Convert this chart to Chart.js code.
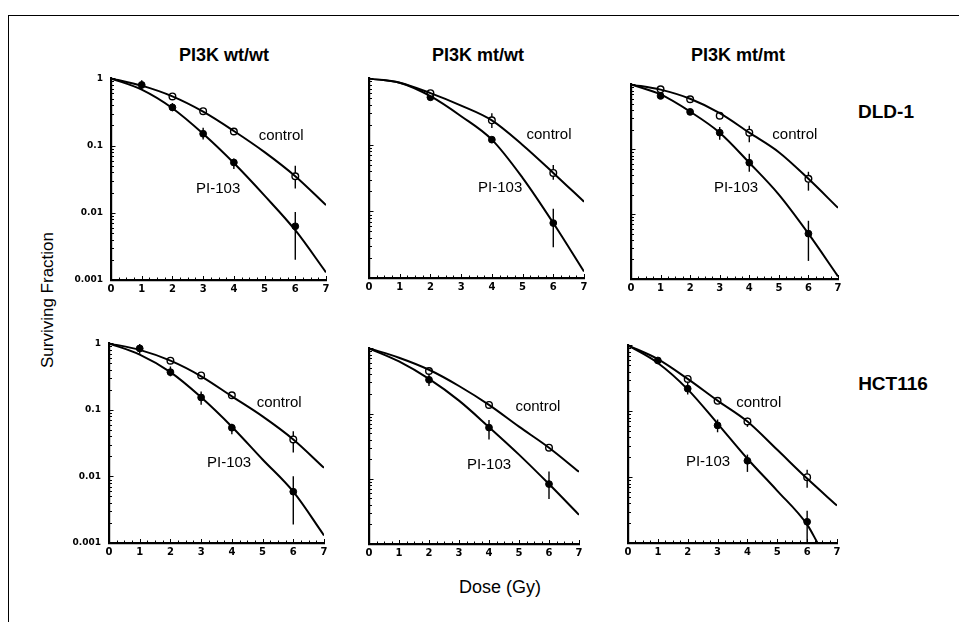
<!DOCTYPE html>
<html>
<head>
<meta charset="utf-8">
<script src="https://cdn.jsdelivr.net/npm/chart.js@4.4.1/dist/chart.umd.min.js"></script>
<style>
body { margin: 0; background: #fff; }
#page { position: relative; width: 959px; height: 622px; overflow: hidden; font-family: "Liberation Sans", Arial, sans-serif; color: #000; }
#frame { position: absolute; left: 8px; top: 15px; width: 980px; height: 640px; border-left: 1.5px solid #000; border-top: 1.5px solid #000; }
.lbl { position: absolute; white-space: nowrap; transform: translate(-50%, -50%); }
canvas { position: absolute; }
</style>
</head>
<body>
<div id="page">
  <div id="frame"></div>
  <div class="lbl" style="left:224px;top:55px;font-weight:bold;font-size:18px">PI3K wt/wt</div>
  <div class="lbl" style="left:478px;top:55px;font-weight:bold;font-size:18px">PI3K mt/wt</div>
  <div class="lbl" style="left:738px;top:55px;font-weight:bold;font-size:18px">PI3K mt/mt</div>
  <div class="lbl" style="left:886px;top:112px;font-weight:bold;font-size:19px">DLD-1</div>
  <div class="lbl" style="left:893px;top:384px;font-weight:bold;font-size:19px">HCT116</div>
  <div class="lbl" style="left:48px;top:300px;font-size:17px;transform:translate(-50%,-50%) rotate(-90deg)">Surviving Fraction</div>
  <div class="lbl" style="left:500px;top:587px;font-size:18px">Dose (Gy)</div>
</div>
<script>
var curveDose = [0, 1, 2, 3, 4, 5, 6, 7];
var xTicks = [0, 1, 2, 3, 4, 5, 6, 7];
var yTicks = [0.001, 0.01, 0.1, 1];
var yMinorTicks = [0.002, 0.003, 0.004, 0.005, 0.006, 0.007, 0.008, 0.009,
                   0.02, 0.03, 0.04, 0.05, 0.06, 0.07, 0.08, 0.09,
                   0.2, 0.3, 0.4, 0.5, 0.6, 0.7, 0.8, 0.9];

// DLD-1, PI3K wt/wt
var dldWtCtrlCurve = [1, 0.78, 0.54, 0.32, 0.165, 0.08, 0.035, 0.013];
var dldWtPiCurve = [1, 0.68, 0.36, 0.15, 0.055, 0.018, 0.0055, 0.0013];
var dldWtCtrlDose = [2, 3, 4, 6];
var dldWtCtrlSF = [0.54, 0.325, 0.162, 0.035];
var dldWtCtrlErr = [null, null, null, [0.023, 0.050]];
var dldWtPiDose = [1, 2, 3, 4, 6];
var dldWtPiSF = [0.80, 0.37, 0.15, 0.056, 0.0063];
var dldWtPiErr = [[0.67, 0.94], [0.325, 0.43], [0.123, 0.185], [0.045, 0.064], [0.002, 0.0103]];

// DLD-1, PI3K mt/wt
var dldMwCtrlCurve = [1, 0.86, 0.60, 0.39, 0.234, 0.10, 0.038, 0.014];
var dldMwPiCurve = [1, 0.86, 0.54, 0.27, 0.12, 0.032, 0.0067, 0.00125];
var dldMwCtrlDose = [2, 4, 6];
var dldMwCtrlSF = [0.60, 0.234, 0.038];
var dldMwCtrlErr = [null, [0.18, 0.30], [0.030, 0.050]];
var dldMwPiDose = [2, 4, 6];
var dldMwPiSF = [0.52, 0.12, 0.0067];
var dldMwPiErr = [[0.47, 0.58], null, [0.0029, 0.011]];

// DLD-1, PI3K mt/mt
var dldMmCtrlCurve = [1, 0.83, 0.60, 0.36, 0.18, 0.09, 0.035, 0.0125];
var dldMmPiCurve = [1, 0.70, 0.38, 0.18, 0.062, 0.02, 0.005, 0.0011];
var dldMmCtrlDose = [1, 2, 3, 4, 6];
var dldMmCtrlSF = [0.84, 0.59, 0.33, 0.18, 0.035];
var dldMmCtrlErr = [null, null, null, [0.128, 0.23], [0.023, 0.045]];
var dldMmPiDose = [1, 2, 3, 4, 6];
var dldMmPiSF = [0.665, 0.377, 0.18, 0.062, 0.005];
var dldMmPiErr = [null, null, [0.14, 0.22], [0.045, 0.085], [0.0019, 0.0079]];

// HCT116, PI3K wt/wt
var hctWtCtrlCurve = [1, 0.80, 0.55, 0.32, 0.16, 0.08, 0.036, 0.0135];
var hctWtPiCurve = [1, 0.68, 0.37, 0.155, 0.056, 0.018, 0.0059, 0.0013];
var hctWtCtrlDose = [2, 3, 4, 6];
var hctWtCtrlSF = [0.55, 0.33, 0.166, 0.036];
var hctWtCtrlErr = [null, null, null, [0.023, 0.048]];
var hctWtPiDose = [1, 2, 3, 4, 6];
var hctWtPiSF = [0.84, 0.37, 0.154, 0.054, 0.0059];
var hctWtPiErr = [[0.70, 0.98], [0.32, 0.45], [0.12, 0.19], [0.043, 0.062], [0.0019, 0.0101]];

// HCT116, PI3K mt/wt
var hctMwCtrlCurve = [1, 0.72, 0.47, 0.265, 0.136, 0.063, 0.030, 0.0128];
var hctMwPiCurve = [1, 0.63, 0.34, 0.158, 0.062, 0.0235, 0.0083, 0.0028];
var hctMwCtrlDose = [2, 4, 6];
var hctMwCtrlSF = [0.45, 0.136, 0.030];
var hctMwCtrlErr = [null, [0.12, 0.155], null];
var hctMwPiDose = [2, 4, 6];
var hctMwPiSF = [0.33, 0.061, 0.0083];
var hctMwPiErr = [[0.265, 0.42], [0.04, 0.08], [0.0049, 0.0129]];

// HCT116, PI3K mt/mt (PI-103 fit runs into the axis before 7 Gy)
var hctMmCtrlCurve = [1, 0.62, 0.31, 0.145, 0.07, 0.026, 0.0095, 0.0037];
var hctMmPiCurveDose = [0, 1, 2, 3, 4, 5, 6, 6.35];
var hctMmPiCurve = [1, 0.54, 0.215, 0.065, 0.019, 0.0062, 0.0019, 0.001];
var hctMmCtrlDose = [2, 3, 4, 6];
var hctMmCtrlSF = [0.31, 0.144, 0.070, 0.010];
var hctMmCtrlErr = [null, null, [0.058, 0.08], [0.0069, 0.013]];
var hctMmPiDose = [1, 2, 3, 4, 6];
var hctMmPiSF = [0.59, 0.22, 0.061, 0.0177, 0.0021];
var hctMmPiErr = [null, [0.18, 0.27], [0.048, 0.075], [0.012, 0.022], [0.001, 0.0031]];

var panels = [
    {left: 111, top: 75, width: 215, height: 205, yLabels: true,
     ctrlCurve: dldWtCtrlCurve, piCurve: dldWtPiCurve,
     ctrlDose: dldWtCtrlDose, ctrlSF: dldWtCtrlSF, ctrlErr: dldWtCtrlErr,
     piDose: dldWtPiDose, piSF: dldWtPiSF, piErr: dldWtPiErr,
     notes: [{text: 'control', x: 5.54, y: 0.141}, {text: 'PI-103', x: 3.49, y: 0.023}]},
    {left: 369, top: 75, width: 215, height: 203, yLabels: false,
     ctrlCurve: dldMwCtrlCurve, piCurve: dldMwPiCurve,
     ctrlDose: dldMwCtrlDose, ctrlSF: dldMwCtrlSF, ctrlErr: dldMwCtrlErr,
     piDose: dldMwPiDose, piSF: dldMwPiSF, piErr: dldMwPiErr,
     notes: [{text: 'control', x: 5.86, y: 0.14}, {text: 'PI-103', x: 4.27, y: 0.023}]},
    {left: 631, top: 81, width: 207, height: 198, yLabels: false,
     ctrlCurve: dldMmCtrlCurve, piCurve: dldMmPiCurve,
     ctrlDose: dldMmCtrlDose, ctrlSF: dldMmCtrlSF, ctrlErr: dldMmCtrlErr,
     piDose: dldMmPiDose, piSF: dldMmPiSF, piErr: dldMmPiErr,
     notes: [{text: 'control', x: 5.54, y: 0.165}, {text: 'PI-103', x: 3.55, y: 0.025}]},
    {left: 109, top: 340, width: 215, height: 203, yLabels: true,
     ctrlCurve: hctWtCtrlCurve, piCurve: hctWtPiCurve,
     ctrlDose: hctWtCtrlDose, ctrlSF: hctWtCtrlSF, ctrlErr: hctWtCtrlErr,
     piDose: hctWtPiDose, piSF: hctWtPiSF, piErr: hctWtPiErr,
     notes: [{text: 'control', x: 5.54, y: 0.126}, {text: 'PI-103', x: 3.91, y: 0.016}]},
    {left: 369, top: 345, width: 210, height: 199, yLabels: false,
     ctrlCurve: hctMwCtrlCurve, piCurve: hctMwPiCurve,
     ctrlDose: hctMwCtrlDose, ctrlSF: hctMwCtrlSF, ctrlErr: hctMwCtrlErr,
     piDose: hctMwPiDose, piSF: hctMwPiSF, piErr: hctMwPiErr,
     notes: [{text: 'control', x: 5.63, y: 0.126}, {text: 'PI-103', x: 4.0, y: 0.0166}]},
    {left: 628, top: 342, width: 209, height: 201, yLabels: false,
     ctrlCurve: hctMmCtrlCurve, piCurve: hctMmPiCurve, piCurveDose: hctMmPiCurveDose,
     ctrlDose: hctMmCtrlDose, ctrlSF: hctMmCtrlSF, ctrlErr: hctMmCtrlErr,
     piDose: hctMmPiDose, piSF: hctMmPiSF, piErr: hctMmPiErr,
     notes: [{text: 'control', x: 4.38, y: 0.136}, {text: 'PI-103', x: 2.68, y: 0.0173}]}
];

function isWhole(v) {
    return Math.abs(v - Math.round(v)) < 1e-6;
}

function isDecade(v) {
    var l = Math.log10(v);
    return Math.abs(l - Math.round(l)) < 1e-6;
}

function toPoints(xs, ys) {
    return xs.map(function (x, i) { return {x: x, y: ys[i]}; });
}

// quarter-Gy minor tick marks along the dose axis
var xTickPositions = [];
for (var q = 0; q <= 28; q++) { xTickPositions.push(q / 4); }
var yTickPositions = yTicks.concat(yMinorTicks).sort(function (a, b) { return a - b; });

var errorBars = {
    id: 'errorBars',
    beforeDatasetsDraw: function (chart) {
        var ctx = chart.ctx, ys = chart.scales.y;
        ctx.save();
        ctx.strokeStyle = '#000';
        ctx.lineWidth = 1.4;
        chart.data.datasets.forEach(function (ds, di) {
            if (!ds.errors) return;
            var meta = chart.getDatasetMeta(di);
            ds.errors.forEach(function (e, i) {
                if (!e) return;
                var px = meta.data[i].x;
                ctx.beginPath();
                ctx.moveTo(px, ys.getPixelForValue(e[0]));
                ctx.lineTo(px, ys.getPixelForValue(e[1]));
                ctx.stroke();
            });
        });
        ctx.restore();
    }
};

var innerTicks = {
    id: 'innerTicks',
    afterDraw: function (chart) {
        var ctx = chart.ctx, a = chart.chartArea;
        var xs = chart.scales.x, ys = chart.scales.y;
        ctx.save();
        ctx.strokeStyle = '#000';
        ctx.lineWidth = 1;
        ctx.beginPath();
        xs.ticks.forEach(function (t) {
            var px = Math.round(xs.getPixelForValue(t.value)) + 0.5;
            var len = isWhole(t.value) ? 4 : 2.5;
            ctx.moveTo(px, a.bottom);
            ctx.lineTo(px, a.bottom - len);
        });
        ys.ticks.forEach(function (t) {
            var py = Math.round(ys.getPixelForValue(t.value)) + 0.5;
            var len = isDecade(t.value) ? 4.5 : 3;
            ctx.moveTo(a.left, py);
            ctx.lineTo(a.left + len, py);
        });
        ctx.stroke();
        ctx.restore();
    }
};

var curveNotes = {
    id: 'curveNotes',
    afterDatasetsDraw: function (chart) {
        var notes = chart.options.plugins.curveNotes.notes;
        var ctx = chart.ctx;
        ctx.save();
        ctx.fillStyle = '#000';
        ctx.font = '15px "Liberation Sans", Arial, sans-serif';
        ctx.textAlign = 'center';
        ctx.textBaseline = 'middle';
        notes.forEach(function (n) {
            ctx.fillText(n.text, chart.scales.x.getPixelForValue(n.x), chart.scales.y.getPixelForValue(n.y));
        });
        ctx.restore();
    }
};

function drawPanel(p) {
    var axisW = 50, axisH = 22, padTop = 10, padRight = 12;
    var cw = p.width + axisW + padRight, ch = p.height + padTop + axisH;
    var cv = document.createElement('canvas');
    cv.width = cw;
    cv.height = ch;
    cv.style.left = (p.left - axisW) + 'px';
    cv.style.top = (p.top - padTop) + 'px';
    cv.style.width = cw + 'px';
    cv.style.height = ch + 'px';
    document.getElementById('page').appendChild(cv);

    var fitLine = {
        type: 'line', showLine: true, fill: false, borderColor: '#000', borderWidth: 2,
        pointRadius: 0, cubicInterpolationMode: 'monotone', clip: 0
    };

    new Chart(cv.getContext('2d'), {
        type: 'line',
        data: {
            datasets: [
                Object.assign({label: 'control fit', data: toPoints(curveDose, p.ctrlCurve)}, fitLine),
                Object.assign({label: 'PI-103 fit', data: toPoints(p.piCurveDose || curveDose, p.piCurve)}, fitLine),
                {label: 'control', data: toPoints(p.ctrlDose, p.ctrlSF), errors: p.ctrlErr, showLine: false,
                 pointRadius: 3.3, pointBackgroundColor: '#fff', pointBorderColor: '#000', pointBorderWidth: 1.4},
                {label: 'PI-103', data: toPoints(p.piDose, p.piSF), errors: p.piErr, showLine: false,
                 pointRadius: 3.4, pointBackgroundColor: '#000', pointBorderColor: '#000', pointBorderWidth: 1}
            ]
        },
        options: {
            responsive: false,
            animation: false,
            devicePixelRatio: 1,
            layout: {padding: {left: 0, top: padTop, right: padRight, bottom: 0}},
            plugins: {legend: {display: false}, tooltip: {enabled: false}, curveNotes: {notes: p.notes}},
            scales: {
                x: {
                    type: 'linear', min: 0, max: 7,
                    afterBuildTicks: function (s) { s.ticks = xTickPositions.map(function (v) { return {value: v}; }); },
                    afterFit: function (s) { s.height = axisH; },
                    grid: {display: false, drawTicks: false},
                    border: {display: true, color: '#000', width: 2.2},
                    ticks: {
                        autoSkip: false, maxRotation: 0, padding: 3, color: '#000',
                        font: {family: 'DejaVu Sans', weight: 'bold', size: 10},
                        callback: function (v) { return isWhole(v) && xTicks.indexOf(Math.round(v)) >= 0 ? String(Math.round(v)) : ''; }
                    }
                },
                y: {
                    type: 'logarithmic', min: 0.001, max: 1,
                    afterBuildTicks: function (s) { s.ticks = yTickPositions.map(function (v) { return {value: v}; }); },
                    afterFit: function (s) { s.width = axisW; },
                    grid: {display: false, drawTicks: false},
                    border: {display: true, color: '#000', width: 2.2},
                    ticks: {
                        autoSkip: false, padding: 8, color: '#000',
                        font: {family: 'DejaVu Sans', weight: 'bold', size: 9},
                        callback: function (v) {
                            if (!p.yLabels || !isDecade(v)) return '';
                            return String(yTicks[Math.round(Math.log10(v)) + 3]);
                        }
                    }
                }
            }
        },
        plugins: [errorBars, innerTicks, curveNotes]
    });
}

panels.forEach(drawPanel);
</script>
</body>
</html>
